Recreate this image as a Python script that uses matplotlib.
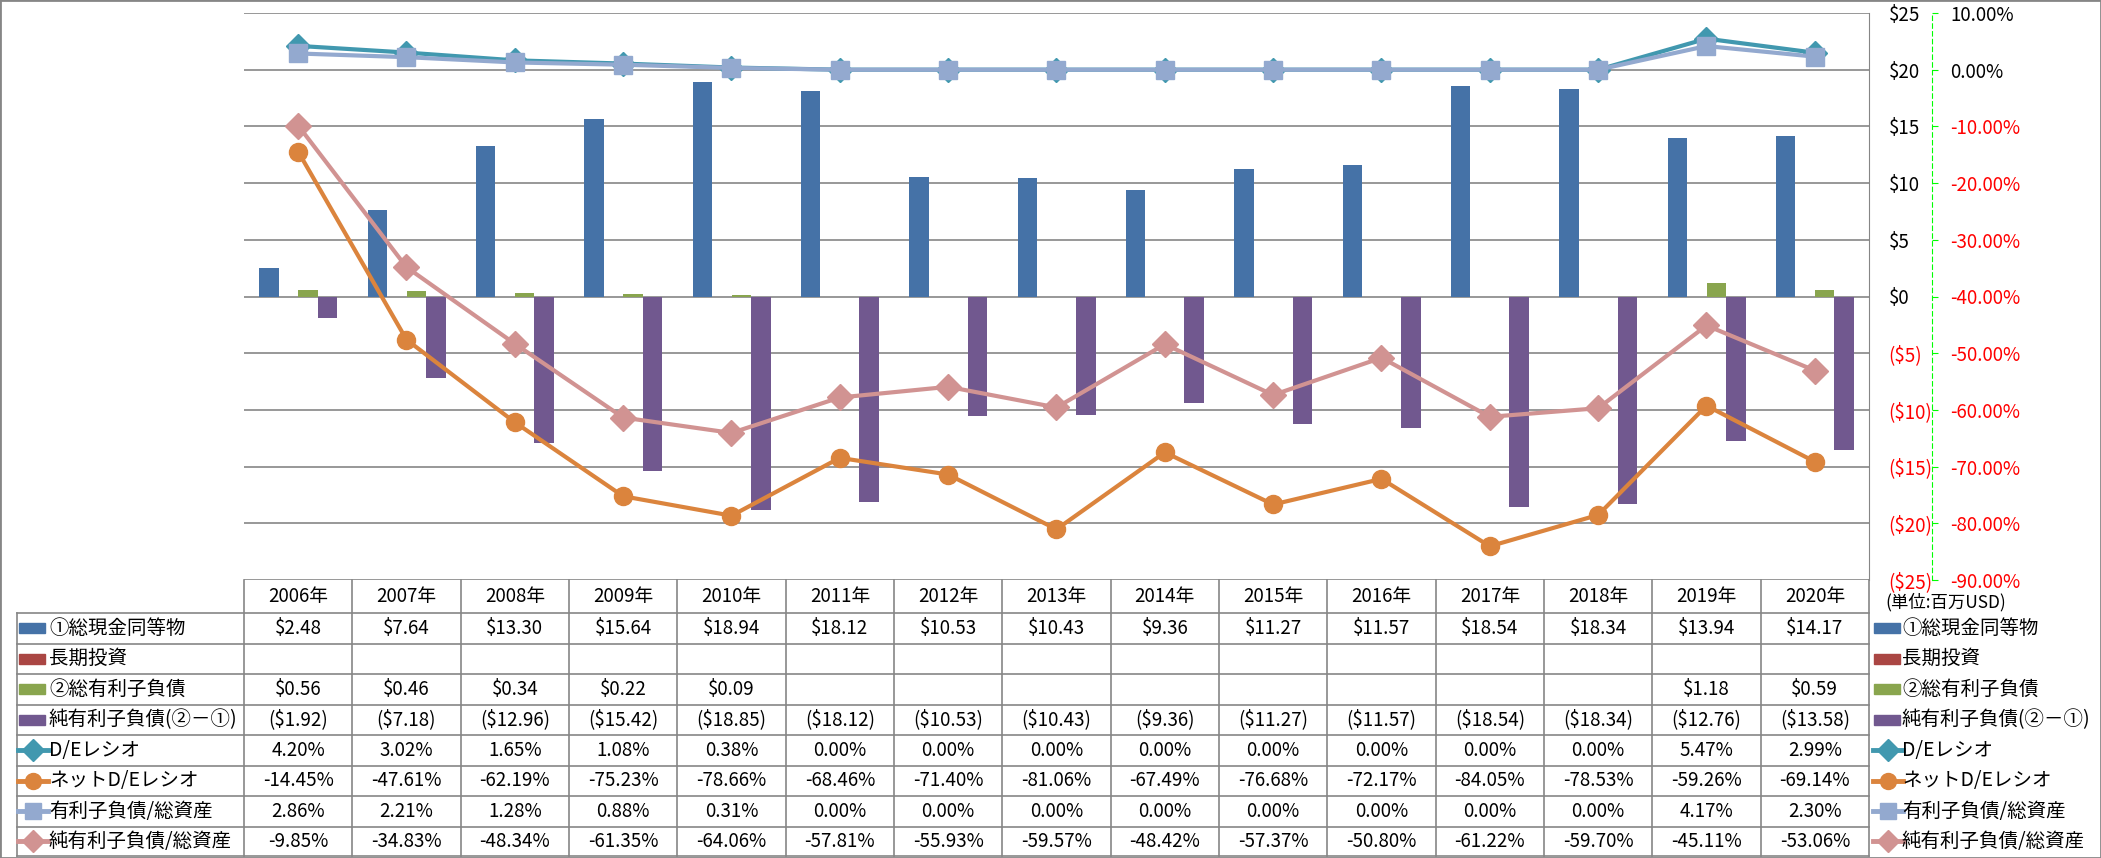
import numpy as np
import matplotlib
matplotlib.use("Agg")
import matplotlib.pyplot as plt
from matplotlib import transforms
from matplotlib.patches import Rectangle
from matplotlib.lines import Line2D

plt.rcParams['font.family'] = ['Noto Sans CJK JP', 'DejaVu Sans']
plt.rcParams['font.size'] = 14

# ---- data (百万USD / %) ----
years = ['2006年', '2007年', '2008年', '2009年', '2010年', '2011年', '2012年', '2013年',
         '2014年', '2015年', '2016年', '2017年', '2018年', '2019年', '2020年']
nan = np.nan
cash = [2.48, 7.64, 13.30, 15.64, 18.94, 18.12, 10.53, 10.43, 9.36, 11.27, 11.57, 18.54, 18.34, 13.94, 14.17]
invest = [nan] * 15
debt = [0.56, 0.46, 0.34, 0.22, 0.09, nan, nan, nan, nan, nan, nan, nan, nan, 1.18, 0.59]
net_debt = [-1.92, -7.18, -12.96, -15.42, -18.85, -18.12, -10.53, -10.43, -9.36, -11.27, -11.57,
            -18.54, -18.34, -12.76, -13.58]
de_ratio = [4.20, 3.02, 1.65, 1.08, 0.38, 0.00, 0.00, 0.00, 0.00, 0.00, 0.00, 0.00, 0.00, 5.47, 2.99]
net_de_ratio = [-14.45, -47.61, -62.19, -75.23, -78.66, -68.46, -71.40, -81.06, -67.49, -76.68,
                -72.17, -84.05, -78.53, -59.26, -69.14]
debt_assets = [2.86, 2.21, 1.28, 0.88, 0.31, 0.00, 0.00, 0.00, 0.00, 0.00, 0.00, 0.00, 0.00, 4.17, 2.30]
net_debt_assets = [-9.85, -34.83, -48.34, -61.35, -64.06, -57.81, -55.93, -59.57, -48.42, -57.37,
                   -50.80, -61.22, -59.70, -45.11, -53.06]

bar_names = ['①総現金同等物', '長期投資', '②総有利子負債', '純有利子負債(②－①)']
line_names = ['D/Eレシオ', 'ネットD/Eレシオ', '有利子負債/総資産', '純有利子負債/総資産']
bar_colors = ['#4572A7', '#AA4643', '#89A54E', '#71588F']
line_colors = ['#4198AF', '#DB843D', '#93A9CF', '#D19392']
line_markers = ['D', 'o', 's', 'D']
line_ms = [12.5, 13, 12.5, 13]

# ---- layout (pixels) ----
W, H = 2101, 858
L, R, T, B = 244, 1869, 13, 580
grid_c = '#868686'
num_fs = 13.5


def fx(px):
    return px / W


def fy(py):
    return 1 - py / H


fig = plt.figure(figsize=(W / 100, H / 100), dpi=100)
ax = fig.add_axes([fx(L), fy(B), fx(R) - fx(L), fy(T) - fy(B)])

x = np.arange(len(years))
w = 0.18
for k, vals in enumerate([cash, invest, debt, net_debt]):
    ax.bar(x + (k - 1.5) * w, vals, w, color=bar_colors[k], zorder=2)

ax.set_xlim(-0.5, len(years) - 0.5)
ax.set_ylim(-25, 25)
ax.set_xticks([])
ax.grid(axis='y', color=grid_c, lw=1.2)
ax.set_axisbelow(True)
for s in ['top', 'left', 'bottom']:
    ax.spines[s].set_visible(False)
ax.spines['right'].set_color(grid_c)

ax2 = ax.twinx()
ax2.set_ylim(-90, 10)
pt = np.arange(-90, 11, 10)
ax2.set_yticks(pt, ['{:.2f}%'.format(v) for v in pt])
for s in ['top', 'left', 'bottom']:
    ax2.spines[s].set_visible(False)
ax2.spines['right'].set_position(('axes', (1932 - L) / (R - L)))
ax2.spines['right'].set_color('#00FF00')
ax2.spines['right'].set_linestyle((0, (4, 3)))
ax2.tick_params(axis='y', color='#00FF00', length=4, pad=9, labelsize=num_fs)
for t, v in zip(ax2.get_yticklabels(), pt):
    t.set_color('red' if v < 0 else 'black')

# primary ($) labels also on the right (after twinx, which resets them)
yt = np.arange(-25, 26, 5)
ax.set_yticks(yt, ['${}'.format(v) if v >= 0 else '(${})'.format(-v) for v in yt])
ax.yaxis.tick_right()
ax.tick_params(axis='y', length=0, pad=14, labelsize=num_fs)
for t, v in zip(ax.get_yticklabels(), yt):
    t.set_color('red' if v < 0 else 'black')

for k, vals in enumerate([de_ratio, net_de_ratio, debt_assets, net_debt_assets]):
    ax2.plot(x, vals, color=line_colors[k], lw=3, marker=line_markers[k],
             ms=line_ms[k], mec=line_colors[k], zorder=3 + k)

# ---- data table ----
blend = transforms.blended_transform_factory(ax.transData, fig.transFigure)
row_edges = [613, 643.5, 674, 704.5, 735, 765.5, 796, 826.5, 856]


def hline(x0, x1, py):
    fig.add_artist(Line2D([fx(x0), fx(x1)], [fy(py), fy(py)], transform=fig.transFigure,
                          color=grid_c, lw=1.2))


for py in row_edges:
    hline(16.5, R, py)
fig.add_artist(Line2D([fx(16.5), fx(16.5)], [fy(613), fy(856)], transform=fig.transFigure,
                      color=grid_c, lw=1.2))
for e in np.arange(-0.5, len(years), 1.0):
    fig.add_artist(Line2D([e, e], [fy(B), fy(856)], transform=blend, color=grid_c, lw=1.2))

for i, yl in enumerate(years):
    fig.text(i, fy(596.5), yl, transform=blend, ha='center', va='center', fontsize=num_fs)


def money(v):
    if np.isnan(v):
        return ''
    return '${:.2f}'.format(v) if v >= 0 else '(${:.2f})'.format(-v)


def pct(v):
    return '{:.2f}%'.format(v)


table_rows = [[money(v) for v in cash], [money(v) for v in invest],
              [money(v) for v in debt], [money(v) for v in net_debt],
              [pct(v) for v in de_ratio], [pct(v) for v in net_de_ratio],
              [pct(v) for v in debt_assets], [pct(v) for v in net_debt_assets]]
names = bar_names + line_names

for r, cells in enumerate(table_rows):
    yc = (row_edges[r] + row_edges[r + 1]) / 2
    for i, s in enumerate(cells):
        fig.text(i, fy(yc), s, transform=blend, ha='center', va='center', fontsize=num_fs)
    # left row header and right legend
    for sx, tx in [(19, 49), (1874, 1902)]:
        if r < 4:
            fig.add_artist(Rectangle((fx(sx), fy(yc + 5)), fx(26), 10 / H, transform=fig.transFigure,
                                     color=bar_colors[r]))
        else:
            k = r - 4
            fig.add_artist(Line2D([fx(sx - 1), fx(sx + 29)], [fy(yc), fy(yc)], transform=fig.transFigure,
                                  color=line_colors[k], lw=3.5))
            fig.add_artist(Line2D([fx(sx + 14)], [fy(yc)], transform=fig.transFigure, ls='none',
                                  marker=line_markers[k], ms=line_ms[k] - 1.5, color=line_colors[k]))
        fig.text(fx(tx), fy(yc), names[r], ha='left', va='center')

fig.text(fx(1885), fy(602), '(単位:百万USD)', ha='left', va='center', fontsize=12.5)

fig.add_artist(Rectangle((0, 0), 1, 1, transform=fig.transFigure, fill=False, ec=grid_c, lw=2))

fig.savefig('out.png', dpi=100)
